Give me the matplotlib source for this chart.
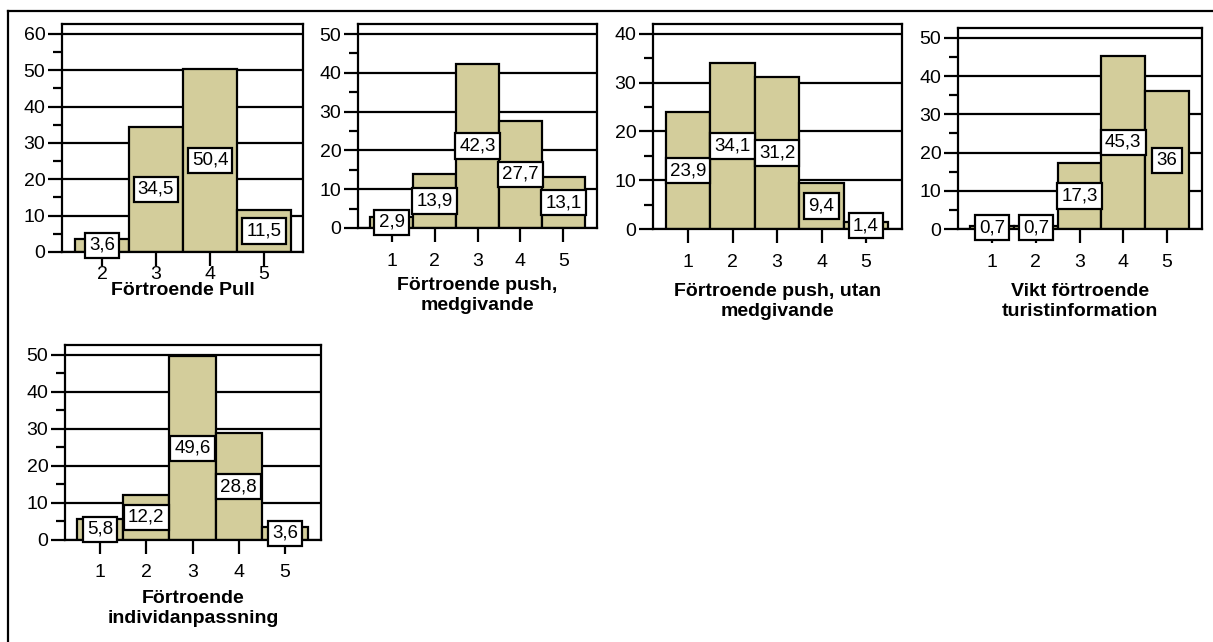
#!/usr/bin/env python3
"""
Recreate the five 'Förtroende' histogram panels (percent per answer category).
"""

import matplotlib
matplotlib.use("Agg")
import matplotlib.pyplot as plt
from matplotlib.lines import Line2D
from matplotlib.ticker import MultipleLocator

plt.rcParams['font.family'] = ['Liberation Sans', 'DejaVu Sans']

# Data (percent per answer category)
titles = [
    "Förtroende Pull",
    "Förtroende push,\nmedgivande",
    "Förtroende push, utan\nmedgivande",
    "Vikt förtroende\nturistinformation",
    "Förtroende\nindividanpassning",
]
categories = [
    [2, 3, 4, 5],
    [1, 2, 3, 4, 5],
    [1, 2, 3, 4, 5],
    [1, 2, 3, 4, 5],
    [1, 2, 3, 4, 5],
]
pull_vals = [3.6, 34.5, 50.4, 11.5]
push_med_vals = [2.9, 13.9, 42.3, 27.7, 13.1]
push_utan_vals = [23.9, 34.1, 31.2, 9.4, 1.4]
turist_vals = [0.7, 0.7, 17.3, 45.3, 36]
individ_vals = [5.8, 12.2, 49.6, 28.8, 3.6]
values = [pull_vals, push_med_vals, push_utan_vals, turist_vals, individ_vals]

# Layout in pixels: left, top, right, bottom of each plot area
W, H = 1213, 642
boxes_px = [
    (62, 24, 303, 252),
    (358, 24, 597, 228),
    (653, 24, 902, 229),
    (958, 28, 1202, 229),
    (65, 345, 321, 540),
]
ylims = [62.7, 52.6, 42.05, 52.6, 52.7]
xlims = [(1.26, 5.72), (0.22, 5.78), (0.21, 5.81), (0.22, 5.80), (0.24, 5.78)]
xtick_pads = [0, 8, 8, 8, 7]
label_gap_px = [30, 49, 54, 54, 50]

BAR_COLOR = '#d3cd9b'
FS = 14

fig = plt.figure(figsize=(W / 100, H / 100), dpi=100)

# outer frame (only top and left edges are visible)
fig.add_artist(Line2D([8 / W, 1], [1 - 11 / H, 1 - 11 / H], color='black', lw=1.6))
fig.add_artist(Line2D([8 / W, 8 / W], [1 - 11 / H, 0], color='black', lw=1.6))

for i in range(len(titles)):
    l, t, r, b = boxes_px[i]
    ax = fig.add_axes([l / W, 1 - b / H, (r - l) / W, (b - t) / H])
    cats = categories[i]
    vals = values[i]

    ax.bar(cats, vals, width=1.0, color=BAR_COLOR, edgecolor='black',
           linewidth=1.6, zorder=2)

    for c, v in zip(cats, vals):
        txt = f"{v:g}".replace('.', ',')
        ax.text(c, v / 2, txt, ha='center', va='center', fontsize=13.5,
                zorder=5, clip_on=False,
                bbox=dict(boxstyle='square,pad=0.22', fc='white',
                          ec='black', lw=1.6))

    ax.set_xlim(*xlims[i])
    ax.set_ylim(0, ylims[i])
    ax.set_xticks(cats)
    ax.yaxis.set_major_locator(MultipleLocator(10))
    ax.yaxis.set_minor_locator(MultipleLocator(5))
    ax.yaxis.grid(True, which='major', color='black', lw=1.6)
    ax.set_axisbelow(True)

    for sp in ax.spines.values():
        sp.set_linewidth(1.6)

    ax.tick_params(axis='x', which='major', length=10, width=1.6,
                   pad=xtick_pads[i], labelsize=FS)
    ax.tick_params(axis='y', which='major', length=10, width=1.6,
                   pad=2, labelsize=FS)
    ax.tick_params(axis='y', which='minor', length=6.5, width=1.6)

    ax.set_xlabel(titles[i], fontsize=FS, fontweight='bold',
                  linespacing=1.25)
    ax.xaxis.set_label_coords(0.5, -label_gap_px[i] / (b - t))
    ax.xaxis.label.set_va('top')

plt.savefig('out.png', dpi=100)
